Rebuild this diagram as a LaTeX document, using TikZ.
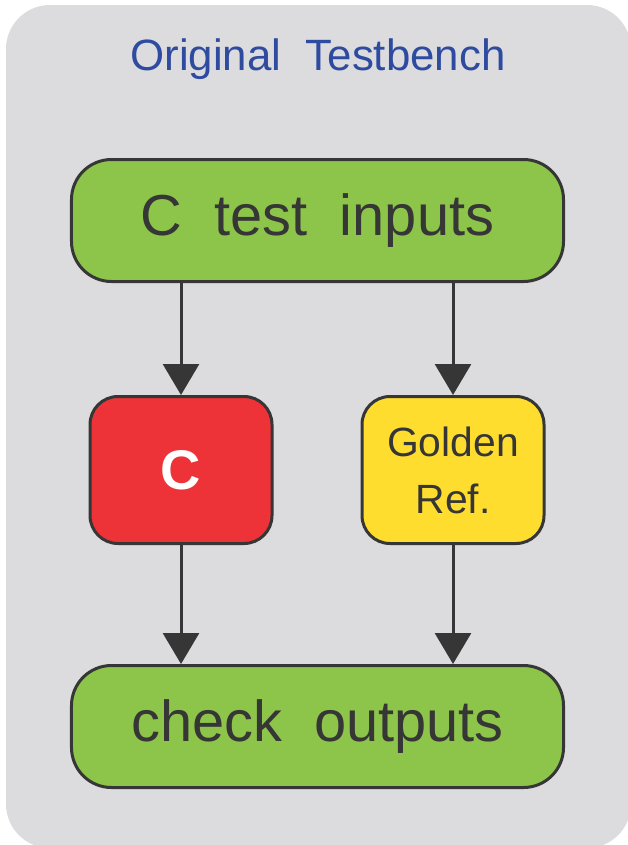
\documentclass[tikz,border=0pt]{standalone}
\usepackage{fontspec}
\setmainfont{Liberation Sans}
\usetikzlibrary{arrows.meta}

\definecolor{panelgray}{HTML}{DCDCDE}
\definecolor{boxgreen}{HTML}{8DC54B}
\definecolor{boxred}{HTML}{EE3338}
\definecolor{boxyellow}{HTML}{FFDD2F}
\definecolor{inkgray}{HTML}{363636}
\definecolor{titleblue}{HTML}{2E4BA0}

\tikzset{
  block/.style={draw=inkgray, line width=3bp, text=inkgray, inner sep=0pt},
  widebox/.style={block, fill=boxgreen, rounded corners=40bp,
    minimum width=492bp, minimum height=122bp,
    font=\fontsize{58}{60}\selectfont},
  smallbox/.style={block, rounded corners=28bp,
    minimum width=182bp, minimum height=147bp},
  flow/.style={draw=inkgray, line width=3bp,
    -{Triangle[width=36bp,length=31bp]}},
}

\begin{document}
\begin{tikzpicture}[x=1bp, y=-1bp]
  \useasboundingbox (0,0) rectangle (628,845);

  % panel behind the flow
  \fill[panelgray, rounded corners=44bp] (6,5) rectangle (631,848);

  \node[text=titleblue, font=\fontsize{44}{46}\selectfont] (title) at (318,59)
    {Original\ \ Testbench};

  \node[widebox] (inputs) at (317.5,220.5) {\raisebox{-3bp}{C\ \ test\ \ inputs}};
  \node[smallbox, fill=boxred, text=white,
        font=\fontsize{56}{58}\selectfont\bfseries] (dut) at (181,470) {C};
  \node[smallbox, fill=boxyellow, align=center,
        font=\fontsize{41}{57}\selectfont] (golden) at (453,470) {Golden\\Ref.};
  \node[widebox] (outputs) at (317.5,726.5) {\raisebox{-2bp}{check\ \ outputs}};

  \draw[flow] (inputs.south -| dut.north) -- (dut.north);
  \draw[flow] (inputs.south -| golden.north) -- (golden.north);
  \draw[flow] (dut.south) -- (outputs.north -| dut.south);
  \draw[flow] (golden.south) -- (outputs.north -| golden.south);
\end{tikzpicture}
\end{document}
